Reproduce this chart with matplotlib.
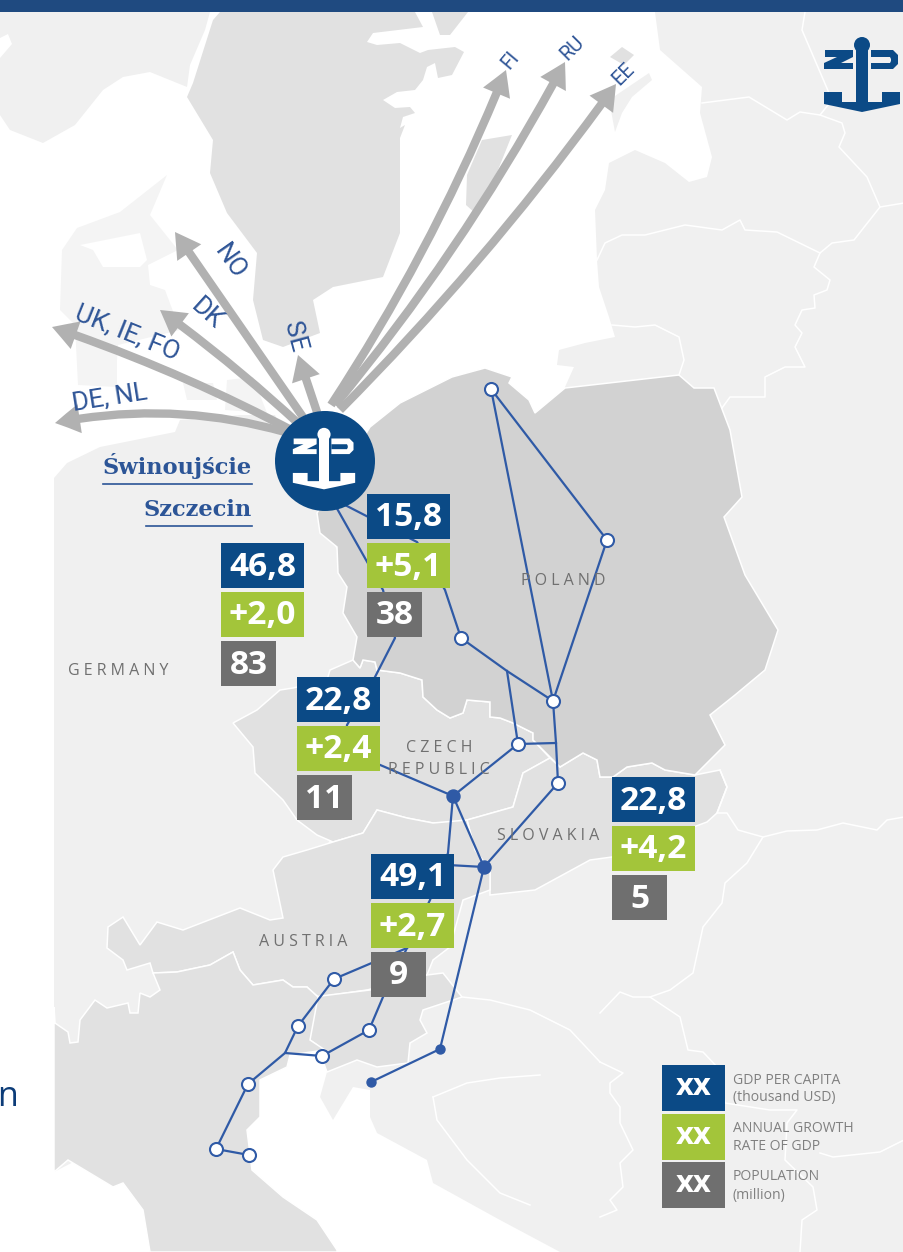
import matplotlib
matplotlib.use("Agg")
import matplotlib.pyplot as plt
from matplotlib.patches import Polygon, Circle, Rectangle, FancyArrowPatch

NAVY = "#0b4a86"
GREEN = "#a3c53a"
GREY = "#6f6f6f"
LINE = "#2f5aa6"
ARROW = "#b1b1b1"
LAND = "#f0f0f0"
FAINT = "#f4f4f4"
MID = "#e1e1e1"
DARK = "#d2d2d2"

# map outlines, in picture pixels
east_land = [(655,12),(660,50),(702,87),(700,113),(712,157),(707,177),(689,182),(665,163),(635,150),(609,163),(605,190),(595,210),(597,260),(599,287),(609,317),(615,337),(585,343),(559,350),(557,365),(574,367),(565,387),(500,700),(300,900),(327,1072),(320,1097),(333,1120),(353,1087),(370,1090),(370,1117),(377,1133),(427,1160),(433,1183),(500,1220),(560,1252),(904,1252),(904,12)]
west_land = [(54,478),(67,463),(100,447),(175,432),(180,420),(240,415),(275,415),(320,510),(400,700),(300,900),(310,1040),(54,1172)]
norway = [(0,12),(210,12),(205,30),(190,65),(187,87),(150,72),(123,77),(103,90),(75,125),(43,143),(10,130),(0,115)]
norway_hole = [(0,38),(8,34),(12,44),(0,58)]
sweden = [(213,20),(220,12),(415,12),(423,27),(373,33),(367,42),(377,45),(400,43),(420,53),(428,50),(455,47),(464,52),(452,75),(438,78),(435,63),(427,67),(423,80),(415,90),(397,92),(383,100),(395,108),(410,107),(415,113),(403,117),(400,128),(405,125),(400,138),(400,187),(400,233),(383,277),(333,287),(313,300),(320,333),(283,347),(263,340),(253,300),(257,253),(227,213),(210,173),(213,140),(187,97),(193,83)]
top_island = [(432,12),(440,35),(450,35),(468,12)]
gotland = [(482,140),(512,135),(498,170),(475,213),(466,205),(467,175)]
hiiumaa = [(610,57),(622,47),(634,55),(624,65)]
saaremaa = [(615,132),(609,100),(649,73),(652,80),(632,97),(622,113)]
jutland = [(167,175),(120,212),(77,228),(62,250),(60,310),(75,325),(78,385),(117,387),(117,360),(118,345),(180,330),(165,290),(150,285),(148,265),(178,250),(150,215)]
fjord = [(80,245),(140,233),(147,260),(140,267),(103,267),(93,250)]
zealand = [(183,383),(213,383),(217,400),(187,400)]
lolland = [(227,380),(253,377),(267,413),(225,410)]
poland = [(317,513),(370,427),(400,403),(452,377),(485,368),(512,377),(509,383),(529,400),(535,413),(565,388),(679,375),(694,388),(714,388),(730,430),(742,497),(724,517),(745,575),(778,630),(765,670),(735,695),(710,715),(725,745),(695,775),(665,770),(652,763),(627,767),(613,777),(600,777),(597,760),(583,753),(560,767),(553,760),(533,740),(533,733),(513,723),(500,718),(490,717),(490,702),(467,700),(463,713),(450,718),(437,710),(423,697),(422,680),(400,673),(377,670),(375,662),(363,660),(360,668),(353,660),(357,637),(343,613),(347,587),(338,573),(337,547),(320,533)]
czech = [(353,660),(360,668),(363,660),(375,662),(377,670),(400,673),(422,680),(423,697),(437,710),(450,718),(463,713),(467,700),(490,702),(490,717),(500,718),(513,723),(533,733),(533,740),(550,758),(523,773),(513,807),(467,820),(457,822),(433,823),(407,818),(377,810),(363,833),(333,842),(317,835),(297,820),(283,800),(255,773),(253,747),(233,723),(257,710),(280,690),(293,688),(327,680),(330,670)]
slovakia = [(550,758),(560,767),(583,753),(597,760),(600,777),(613,777),(627,767),(652,763),(665,770),(695,775),(720,770),(727,787),(717,813),(707,822),(612,857),(590,860),(535,890),(490,895),(490,870),(475,850),(467,820),(513,807),(523,773)]
austria = [(333,842),(307,850),(283,857),(273,870),(283,918),(270,920),(240,908),(183,930),(157,922),(140,945),(123,917),(108,927),(107,948),(123,960),(127,970),(150,963),(153,973),(177,972),(210,965),(233,952),(240,970),(253,985),(283,980),(293,987),(307,987),(318,997),(367,990),(427,975),(433,960),(450,947),(463,900),(490,890),(490,870),(475,850),(467,820),(433,823),(407,818),(377,810),(363,833)]
slovenia = [(313,997),(370,990),(427,975),(443,973),(462,997),(423,1010),(420,1020),(427,1033),(410,1043),(408,1063),(377,1067),(357,1060),(327,1072),(317,1045),(310,1040)]
italy = [(54,1007),(55,1023),(68,1032),(70,1043),(78,1042),(80,1020),(95,1000),(107,1008),(128,1003),(130,1013),(138,1013),(140,993),(150,997),(160,990),(153,973),(177,972),(210,965),(233,952),(240,970),(253,985),(283,980),(293,987),(307,987),(318,997),(310,1040),(325,1050),(290,1055),(287,1067),(260,1080),(260,1117),(247,1130),(252,1170),(283,1197),(317,1220),(337,1250),(337,1252),(150,1252),(143,1210),(123,1183),(113,1187),(68,1160),(54,1172)]

borders = [
    [(702,103),(749,97),(787,120),(800,112),(820,115),(842,123),(845,133),(839,147),(867,177),(880,207),(904,203)],
    [(880,207),(854,240),(832,243),(820,253),(814,267),(830,280),(827,290),(814,295),(815,308),(802,310),(795,325),(802,333),(795,347),(805,367),(785,367),(765,377),(765,397),(730,397),(722,408)],
    [(820,115),(832,100),(802,30),(805,12)],
    [(597,260),(605,243),(622,235),(645,235),(685,225),(722,230),(740,220),(745,230),(777,232),(820,253)],
    [(612,325),(635,327),(655,325),(679,337),(684,360),(679,375)],
    [(720,770),(727,787),(717,813),(727,813),(738,830),(763,837),(787,831),(817,830),(843,823),(877,830),(887,820),(904,817)],
    [(763,837),(747,863),(725,883),(722,903),(703,927),(693,973),(670,990),(650,997),(633,997),(620,992),(600,1013)],
    [(650,997),(680,1017),(688,1050),(703,1052),(720,1070),(725,1103),(770,1110),(797,1110),(787,1123),(785,1160),(813,1187),(817,1210),(802,1220),(800,1252)],
    [(820,1153),(833,1157),(880,1152),(904,1140)],
    [(600,1062),(623,1073),(610,1083),(610,1093),(620,1107),(620,1123),(633,1150),(620,1163),(623,1187),(610,1200),(617,1210),(600,1217)],
    [(433,1097),(467,1083),(500,1078),(540,1075)],
    [(433,1097),(437,1120),(467,1160),(500,1193),(530,1205)],
    [(462,997),(490,1000),(530,1010),(570,1030),(600,1062)],
]

# rail network
nodes_open_x = [491,607,553,461,518,558,334,298,369,322,248,216,249]
nodes_open_y = [389,540,701,638,744,783,979,1026,1030,1056,1084,1149,1155]
nodes_hub_x = [453,484]
nodes_hub_y = [796,867]
nodes_small_x = [440,371]
nodes_small_y = [1049,1082]
rail_routes = [
    [(491,389),(553,701)],
    [(491,389),(607,540),(553,701),(556,743),(558,783),(484,867)],
    [(553,701),(507,671),(461,638),(445,590),(417,542),(345,505)],
    [(507,671),(518,744),(556,743)],
    [(518,744),(453,796)],
    [(335,505),(383,590),(395,638),(375,677),(347,725),(345,750),(453,796),(484,867),(440,1049),(371,1082)],
    [(453,796),(448,853),(430,900),(407,948),(383,997),(369,1030),(322,1056),(285,1053)],
    [(484,867),(448,865)],
    [(407,948),(334,979),(298,1026),(285,1053),(248,1084),(216,1149),(249,1155)],
]

# shipping lanes: start, tip, bend
lane_start = [(331,405),(335,405),(340,410),(318,415),(305,420),(300,425),(295,432),(285,432)]
lane_tip = [(506,70),(565,62),(616,84),(298,355),(175,232),(160,310),(52,327),(55,423)]
lane_bend = [0.05,0.05,0.04,0,0,0.03,0.04,0.12]
lane_labels = ["FI","RU","EE","SE","NO","DK","UK, IE, FO","DE, NL"]
lane_label_x = [510,572,624,295,230,207,127,110]
lane_label_y = [60,48,74,337,262,314,333,398]
lane_label_rot = [50,45,45,-75,-55,-42,-22,9]
lane_label_size = [20,20,20,26,26,26,26,26]

# country boxes: gdp, growth, population
country_x = [221,367,297,371,612]
country_y = [543,494,677,854,777]
gdp = ["46,8","15,8","22,8","49,1","22,8"]
growth = ["+2,0","+5,1","+2,4","+2,7","+4,2"]
population = ["83","38","11","9","5"]

countries = ["G E R M A N Y","P O L A N D","C Z E C H","R E P U B L I C","S L O V A K I A","A U S T R I A"]
countries_x = [118,563,439,439,548,303]
countries_y = [671,581,748,770,836,942]

legend_y = [1065,1114,1162]
legend_colors = [NAVY,GREEN,GREY]
legend_lines = [("GDP PER CAPITA","(thousand USD)"),("ANNUAL GROWTH","RATE OF GDP"),("POPULATION","(million)")]


def px(size):
    return size*0.72


def anchor(ax, cx, cy, k, color, hole, z):
    ax.add_patch(Circle((cx,cy-30*k),8*k,fc=color,ec="none",zorder=z))
    ax.add_patch(Rectangle((cx-6*k,cy-30*k),12*k,62*k,fc=color,ec="none",zorder=z))
    z_flag = [(-37,-25),(-9,-25),(-9,-18),(-21,-12),(-9,-12),(-9,-6),(-38,-6),(-38,-12),(-25,-18),(-37,-18)]
    p_flag = [(9,-25),(31,-25),(36,-20),(36,-11),(31,-6),(9,-6)]
    p_hole = [(9,-18),(28,-18),(29,-16),(29,-14),(28,-12),(9,-12)]
    fluke = [(-38,17),(-20,17),(-20,27),(20,27),(20,17),(38,17),(38,29),(0,37),(-38,29)]
    for shape, col in [(z_flag,color),(p_flag,color),(p_hole,hole),(fluke,color)]:
        ax.add_patch(Polygon([(cx+a*k,cy+b*k) for a,b in shape],fc=col,ec="none",zorder=z))


fig = plt.figure(figsize=(9.04,12.52),dpi=100)
ax = fig.add_axes([0,0,1,1])
ax.set_xlim(0,904)
ax.set_ylim(1252,0)
ax.axis("off")

for shape, col in [(east_land,LAND),(west_land,LAND),(norway,LAND),(jutland,FAINT),(zealand,FAINT),(lolland,FAINT),(saaremaa,LAND)]:
    ax.add_patch(Polygon(shape,fc=col,ec="none",zorder=1))
for shape in [norway_hole,fjord]:
    ax.add_patch(Polygon(shape,fc="white",ec="none",zorder=1.1))
for shape in [sweden,top_island,gotland,hiiumaa]:
    ax.add_patch(Polygon(shape,fc=MID,ec="none",zorder=1.2))
for shape in [czech,slovakia,austria,slovenia,italy]:
    ax.add_patch(Polygon(shape,fc=MID,ec="white",lw=1.1,zorder=1.5))
ax.add_patch(Polygon(poland,fc=DARK,ec="white",lw=1.1,zorder=1.6))
for b in borders:
    ax.plot([p[0] for p in b],[p[1] for p in b],color="white",lw=1.1,zorder=1.8)

ax.add_patch(Rectangle((0,0),904,12,fc="#1f4a80",ec="none",zorder=6))

for s, t, r in zip(lane_start,lane_tip,lane_bend):
    ax.add_patch(FancyArrowPatch(s,t,connectionstyle=f"arc3,rad={r}",
                                 arrowstyle="simple,head_length=1.8,head_width=2.1,tail_width=0.6",mutation_scale=10,
                                 lw=0,fc=ARROW,ec="none",shrinkA=0,shrinkB=0,zorder=3))
for name, x, y, r, sz in zip(lane_labels,lane_label_x,lane_label_y,lane_label_rot,lane_label_size):
    ax.text(x,y,name,rotation=r,rotation_mode="anchor",ha="center",va="center",color="#2f5597",
            fontsize=px(sz),family=["Liberation Sans Narrow","Roboto"],zorder=4)

for route in rail_routes:
    ax.plot([p[0] for p in route],[p[1] for p in route],color=LINE,lw=1.6,zorder=3,solid_joinstyle="round")
ax.scatter(nodes_open_x,nodes_open_y,s=px(13)**2,fc="white",ec=LINE,lw=1.5,zorder=3.5)
ax.scatter(nodes_hub_x,nodes_hub_y,s=px(13)**2,fc=LINE,ec=LINE,zorder=3.5)
ax.scatter(nodes_small_x,nodes_small_y,s=px(9)**2,fc=LINE,ec=LINE,zorder=3.5)

ax.add_patch(Circle((325,461),50,fc=NAVY,ec="none",zorder=4))
anchor(ax,324,459,0.82,"white",NAVY,4.5)
anchor(ax,862,75,1.0,NAVY,LAND,4.5)

for label, y in [("Świnoujście",466),("Szczecin",510)]:
    ax.text(252,y,label,ha="right",va="center",color="#2c5597",fontsize=px(22.5),family="DejaVu Serif",weight="bold",zorder=4)
ax.plot([103,252],[484,484],color="#2c5597",lw=1.2,zorder=4)
ax.plot([146,252],[526,526],color="#2c5597",lw=1.2,zorder=4)

for name, x, y in zip(countries,countries_x,countries_y):
    ax.text(x,y,name,ha="center",va="center",color="#707070",fontsize=px(16),family="Open Sans",zorder=3.2)

for x, y, a, b, c in zip(country_x,country_y,gdp,growth,population):
    ax.add_patch(Rectangle((x,y),83,45,fc=NAVY,ec="none",zorder=5))
    ax.add_patch(Rectangle((x,y+49),83,45,fc=GREEN,ec="none",zorder=5))
    ax.add_patch(Rectangle((x,y+98),55,45,fc=GREY,ec="none",zorder=5))
    ax.text(x+41.5,y+24,a,ha="center",va="center",color="white",fontsize=px(33.5),family="Open Sans",weight="bold",zorder=5.5)
    ax.text(x+41.5,y+73,b,ha="center",va="center",color="white",fontsize=px(33.5),family="Open Sans",weight="bold",zorder=5.5)
    ax.text(x+27.5,y+122,c,ha="center",va="center",color="white",fontsize=px(33.5),family="Open Sans",weight="bold",zorder=5.5)

for y, col, lines in zip(legend_y,legend_colors,legend_lines):
    ax.add_patch(Rectangle((662,y),63,46,fc=col,ec="none",zorder=5))
    ax.text(693.5,y+22,"xx",ha="center",va="center",color="white",fontsize=px(31),family="Open Sans",weight="bold",zorder=5.5)
    ax.text(733,y+15,lines[0],ha="left",va="center",color="#808080",fontsize=px(14),family="Open Sans",zorder=5.5)
    ax.text(733,y+33,lines[1],ha="left",va="center",color="#808080",fontsize=px(14),family="Open Sans",zorder=5.5)

ax.text(18,1097,"n",ha="right",va="center",color="#0c3c78",fontsize=px(34),family="Open Sans",zorder=5)

fig.savefig("out.png",dpi=100)
